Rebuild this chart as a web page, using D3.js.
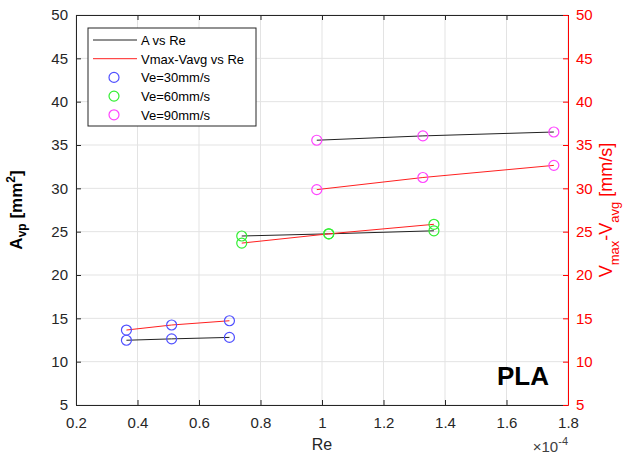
<!DOCTYPE html>
<html>
<head>
<meta charset="utf-8">
<script src="https://cdn.jsdelivr.net/npm/d3@7"></script>
<style>
  body { margin: 0; background: #fff; }
  svg { font-family: Arial, "Liberation Sans", sans-serif; }
  .tick text { fill: #262626; font-size: 15px; }
</style>
</head>
<body>
<svg id="chart"></svg>
<script>
// Re values (x10^-4) per group
const re30 = [0.364, 0.511, 0.699];
const re60 = [0.739, 1.022, 1.364];
const re90 = [0.983, 1.328, 1.754];
// A_vp [mm^2]
const area30 = [12.47, 12.63, 12.8];
const area60 = [24.5, 24.75, 25.1];
const area90 = [35.55, 36.05, 36.5];
// Vmax - Vavg [mm/s]
const dv30 = [13.65, 14.23, 14.72];
const dv60 = [23.68, 24.75, 25.85];
const dv90 = [29.85, 31.25, 32.65];

const xTicks = [0.2, 0.4, 0.6, 0.8, 1, 1.2, 1.4, 1.6, 1.8];
const yTicks = [5, 10, 15, 20, 25, 30, 35, 40, 45, 50];

const groups = [
  {name: 'Ve=30mm/s', color: '#5050ff', re: re30, a: area30, v: dv30},
  {name: 'Ve=60mm/s', color: '#33ee33', re: re60, a: area60, v: dv60},
  {name: 'Ve=90mm/s', color: '#ff44ff', re: re90, a: area90, v: dv90}
];

const W = 624, H = 467;
const margin = {top: 15, right: 56, bottom: 62, left: 76};
const width = W - margin.left - margin.right;
const height = H - margin.top - margin.bottom;

const svg = d3.select('#chart').attr('width', W).attr('height', H);
const chart = svg.append('g').attr('transform', `translate(${margin.left},${margin.top})`);

const x = d3.scaleLinear().domain([0.2, 1.8]).range([0, width]);
const yL = d3.scaleLinear().domain([5, 50]).range([height, 0]);
const yR = d3.scaleLinear().domain([5, 50]).range([height, 0]);

// grid
chart.append('g').selectAll('line.gx').data(xTicks).join('line')
  .attr('x1', d => x(d)).attr('x2', d => x(d))
  .attr('y1', 0).attr('y2', height)
  .attr('stroke', '#e3e3e3').attr('stroke-width', 1);
chart.append('g').selectAll('line.gy').data(yTicks).join('line')
  .attr('x1', 0).attr('x2', width)
  .attr('y1', d => yL(d)).attr('y2', d => yL(d))
  .attr('stroke', '#e3e3e3').attr('stroke-width', 1);

// axes
const xAxisG = chart.append('g')
  .attr('transform', `translate(0,${height})`)
  .call(d3.axisBottom(x).tickValues(xTicks).tickSizeInner(-5).tickSizeOuter(0).tickPadding(12).tickFormat(d3.format('')));
const xTopG = chart.append('g')
  .call(d3.axisTop(x).tickValues(xTicks).tickSizeInner(-5).tickSizeOuter(0).tickFormat(''));
const yLG = chart.append('g')
  .call(d3.axisLeft(yL).tickValues(yTicks).tickSizeInner(-5).tickSizeOuter(0).tickPadding(8));
[xAxisG, xTopG, yLG].forEach(g => {
  g.selectAll('path, line').attr('stroke', '#262626');
});
const yRG = chart.append('g')
  .attr('transform', `translate(${width},0)`)
  .call(d3.axisRight(yR).tickValues(yTicks).tickSizeInner(-5).tickSizeOuter(0).tickPadding(8));
yRG.selectAll('path, line').attr('stroke', '#ff0000');
yRG.selectAll('text').style('fill', '#ff0000');

// lines
const lineA = d3.line().x(d => x(d[0])).y(d => yL(d[1]));
const lineV = d3.line().x(d => x(d[0])).y(d => yR(d[1]));
groups.forEach(g => {
  chart.append('path')
    .attr('d', lineA(d3.zip(g.re, g.a)))
    .attr('fill', 'none').attr('stroke', '#222').attr('stroke-width', 1);
  chart.append('path')
    .attr('d', lineV(d3.zip(g.re, g.v)))
    .attr('fill', 'none').attr('stroke', '#ff2020').attr('stroke-width', 1);
});
groups.forEach(g => {
  chart.append('g').selectAll('circle').data(d3.zip(g.re, g.a)).join('circle')
    .attr('cx', d => x(d[0])).attr('cy', d => yL(d[1])).attr('r', 5)
    .attr('fill', 'none').attr('stroke', g.color).attr('stroke-width', 1.2);
  chart.append('g').selectAll('circle').data(d3.zip(g.re, g.v)).join('circle')
    .attr('cx', d => x(d[0])).attr('cy', d => yR(d[1])).attr('r', 5)
    .attr('fill', 'none').attr('stroke', g.color).attr('stroke-width', 1.2);
});

// labels
svg.append('text')
  .attr('x', margin.left + width / 2).attr('y', 450)
  .attr('text-anchor', 'middle').attr('fill', '#262626').style('font-size', '16px')
  .text('Re');

const yl = svg.append('text')
  .attr('transform', `translate(22,${margin.top + height / 2}) rotate(-90)`)
  .attr('text-anchor', 'middle').attr('fill', '#000')
  .style('font-size', '17px').style('font-weight', 'bold');
yl.append('tspan').text('A');
yl.append('tspan').attr('dy', 4).style('font-size', '12px').text('vp');
yl.append('tspan').attr('dy', -4).text(' [mm');
yl.append('tspan').attr('dy', -7).style('font-size', '12px').text('2');
yl.append('tspan').attr('dy', 7).text(']');

const yr = svg.append('text')
  .attr('transform', `translate(612,${margin.top + height / 2}) rotate(-90)`)
  .attr('text-anchor', 'middle').attr('fill', '#ff0000')
  .style('font-size', '18px');
yr.append('tspan').text('V');
yr.append('tspan').attr('dy', 7).style('font-size', '13px').text('max');
yr.append('tspan').attr('dy', -7).text('-V');
yr.append('tspan').attr('dy', 7).style('font-size', '13px').text('avg');
yr.append('tspan').attr('dy', -7).text(' [mm/s]');

const ex = svg.append('text')
  .attr('x', margin.left + width).attr('y', 452)
  .attr('text-anchor', 'end').attr('fill', '#404040').style('font-size', '15px');
ex.append('tspan').text('\u00d710');
ex.append('tspan').attr('dy', -7).style('font-size', '11px').text('-4');

svg.append('text')
  .attr('x', 523).attr('y', 385)
  .attr('text-anchor', 'middle').attr('fill', '#000')
  .style('font-size', '26px').style('font-weight', 'bold')
  .text('PLA');

// legend
const legend = svg.append('g').attr('transform', 'translate(88,28)');
legend.append('rect')
  .attr('width', 168).attr('height', 98)
  .attr('fill', '#fff').attr('stroke', '#262626').attr('stroke-width', 1);
const legItems = [
  {label: 'A vs Re', type: 'line', color: '#222'},
  {label: 'Vmax-Vavg vs Re', type: 'line', color: '#ff2020'}
].concat(groups.map(g => ({label: g.name, type: 'circle', color: g.color})));
legItems.forEach((d, i) => {
  const yy = 12 + i * 18.7;
  if (d.type === 'line') {
    legend.append('line').attr('x1', 5).attr('x2', 49).attr('y1', yy).attr('y2', yy)
      .attr('stroke', d.color).attr('stroke-width', 1);
  } else {
    legend.append('circle').attr('cx', 26).attr('cy', yy).attr('r', 5)
      .attr('fill', 'none').attr('stroke', d.color).attr('stroke-width', 1.2);
  }
  legend.append('text').attr('x', 53).attr('y', yy + 5)
    .attr('fill', '#000').style('font-size', '13px').text(d.label);
});
</script>
</body>
</html>
